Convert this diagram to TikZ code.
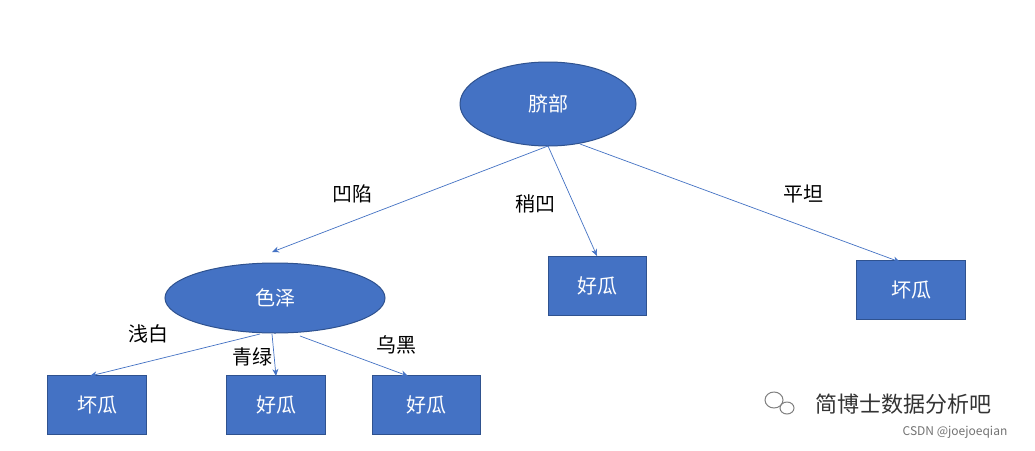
\documentclass[tikz,border=0pt]{standalone}
\usepackage{fontspec}
\setmainfont{Noto Sans CJK SC}
\usetikzlibrary{shapes.geometric,arrows.meta}
\definecolor{fillb}{HTML}{4472C4}
\definecolor{edgeb}{HTML}{2F528F}
\definecolor{lineb}{HTML}{4472C4}
\begin{document}
\begin{tikzpicture}[x=1pt,y=-1pt,
  ell/.style={ellipse,fill=fillb,draw=edgeb,line width=1pt,text=white,font=\fontsize{20}{22}\selectfont},
  box/.style={rectangle,fill=fillb,draw=edgeb,line width=1pt,text=white,font=\fontsize{20}{22}\selectfont},
  arr/.style={draw=lineb,line width=0.7pt,-{Stealth[length=7pt,width=6pt]}},
  lab/.style={font=\fontsize{20}{22}\selectfont,text=black}]
\useasboundingbox (0,0) rectangle (1035,450);
\fill[white] (0,0) rectangle (1035,450);
\node[ell,minimum width=176pt,minimum height=84pt] (root) at (548,104) {脐部};
\node[ell,minimum width=220pt,minimum height=70pt] (se) at (275,298) {色泽};
\node[box,minimum width=98pt,minimum height=59pt] (g1) at (597,286) {好瓜};
\node[box,minimum width=109pt,minimum height=59pt] (b1) at (911,290) {坏瓜};
\node[box,minimum width=99pt,minimum height=59pt] (b2) at (97,405) {坏瓜};
\node[box,minimum width=99pt,minimum height=59pt] (g2) at (276,405) {好瓜};
\node[box,minimum width=108pt,minimum height=59pt] (g3) at (426,405) {好瓜};
\coordinate (r1) at (548,146);
\coordinate (r2) at (580,144);
\coordinate (s1) at (260,334);
\coordinate (s2) at (272,334);
\coordinate (s3) at (300,336);
\draw[arr] (r1) -- (272,252) coordinate (t1);
\draw[arr] (r1) -- (g1.north);
\draw[arr] (r2) -- (900,262);
\draw[arr] (s1) -- (90,376);
\draw[arr] (s2) -- (276,376);
\draw[arr] (s3) -- (408,376);
\node[lab] (l1) at (352,194) {凹陷};
\node[lab] (l2) at (535,204) {稍凹};
\node[lab] (l3) at (803,194) {平坦};
\node[lab] (l4) at (148,334) {浅白};
\node[lab] (l5) at (252,357) {青绿};
\node[lab] (l6) at (396,345) {乌黑};
\node[font=\fontsize{22}{24}\selectfont,text=black!80] (wm) at (903,404) {简博士数据分析吧};
\draw[gray,line width=1pt] (774,400) ellipse (9pt and 8pt);
\draw[gray,line width=1pt] (787,408) ellipse (7pt and 6pt);
\node[font=\fontsize{12}{14}\selectfont,text=black!55] (cs) at (955,432) {CSDN @joejoeqian};
\end{tikzpicture}
\end{document}
